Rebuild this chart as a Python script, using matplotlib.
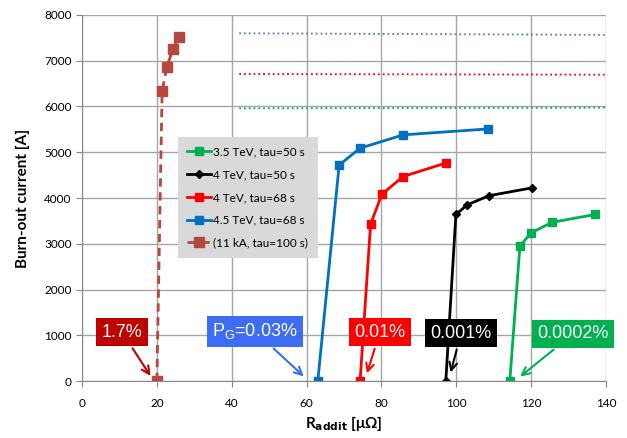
import matplotlib
matplotlib.use("Agg")
import matplotlib.pyplot as plt

plt.rcParams['font.family'] = ['Lato', 'DejaVu Sans']
plt.rcParams['mathtext.default'] = 'regular'

# series: R_addit [uOhm] vs burn-out current [A]
r_35_50 = [114.3, 117.0, 120.0, 125.6, 137.1]
i_35_50 = [0, 2950, 3240, 3470, 3640]
r_4_50 = [97.2, 99.9, 102.9, 108.7, 120.1]
i_4_50 = [0, 3640, 3850, 4050, 4220]
r_4_68 = [74.3, 77.1, 80.1, 85.8, 97.2]
i_4_68 = [0, 3430, 4080, 4470, 4765]
r_45_68 = [63.0, 68.7, 74.3, 85.8, 108.5]
i_45_68 = [0, 4720, 5090, 5380, 5510]
r_11ka = [20.0, 21.4, 22.7, 24.3, 25.9]
i_11ka = [0, 6340, 6870, 7260, 7520]

labels = ['3.5 TeV, tau=50 s', '4 TeV, tau=50 s', '4 TeV, tau=68 s',
          '4.5 TeV, tau=68 s', '(11 kA, tau=100 s)']

# dotted reference levels
lvl_x = [42, 140]
lvl_blue = [7600, 7565]
lvl_red = [6710, 6695]
lvl_green = [5960, 5975]

# probability labels: text, text pos, arrow target, colour
notes = [
    ('1.7%', (10.7, 1070), (18.7, 60), '#c00000'),
    ('P$_G$=0.03%', (46.2, 1090), (59.8, 60), '#3d6df2'),
    ('0.01%', (79.6, 1070), (75.9, 110), '#ff0000'),
    ('0.001%', (101.3, 1050), (98.3, 130), '#000000'),
    ('0.0002%', (131.2, 1030), (116.5, 60), '#00b050'),
]

fig = plt.figure(figsize=(6.27, 4.38), dpi=100)
ax = fig.add_axes([0.1308, 0.130, 0.8357, 0.8358])

ax.plot(lvl_x, lvl_blue, ':', color='#4f81bd', lw=1.3)
ax.plot(lvl_x, lvl_red, ':', color='#ff0000', lw=1.3)
ax.plot(lvl_x, lvl_green, ':', color='#00b050', lw=1.3)

ax.plot(r_35_50, i_35_50, '-s', color='#00b050', lw=2, ms=6, label=labels[0])
ax.plot(r_4_50, i_4_50, '-D', color='#000000', lw=2, ms=4, label=labels[1])
ax.plot(r_4_68, i_4_68, '-s', color='#ff0000', lw=2, ms=6, label=labels[2])
ax.plot(r_45_68, i_45_68, '-s', color='#0070c0', lw=2, ms=6, label=labels[3])
ax.plot(r_11ka, i_11ka, '--s', color='#b5473f', lw=2, ms=7, dashes=(3, 2),
        label=labels[4])

for txt, pos, tgt, col in notes:
    ax.annotate(txt, xy=tgt, xytext=pos, ha='center', va='center',
                color='white', fontsize=13, family='Liberation Sans',
                bbox=dict(boxstyle='square,pad=0.3', fc=col, ec='none'),
                arrowprops=dict(arrowstyle='->', color=col, lw=1.5,
                                mutation_scale=14))

ax.set_xlim(0, 140)
ax.set_ylim(0, 8000)
ax.set_xticks(range(0, 141, 20))
ax.set_yticks(range(0, 8001, 1000))
ax.grid(True, color='#a6a6a6', lw=1)
ax.set_axisbelow(True)
for s in ['top', 'right']:
    ax.spines[s].set_visible(False)
for s in ['left', 'bottom']:
    ax.spines[s].set_color('#888888')
ax.tick_params(axis='both', labelsize=8.5, color='#888888', length=4)
ax.tick_params(axis='x', pad=8)

ax.set_xlabel(r'R$_{\mathbf{addit}}$ [μΩ]', fontsize=11, fontweight='bold')
ax.set_ylabel('Burn-out current [A]', fontsize=11, fontweight='bold',
              labelpad=10)

leg = ax.legend(loc='upper left', bbox_to_anchor=(0.183, 0.667), fontsize=8.5,
                frameon=True, fancybox=False, handlelength=2.0,
                handletextpad=0.2, labelspacing=1.0, borderpad=0.8,
                borderaxespad=0)
leg.get_frame().set_facecolor('#d9d9d9')
leg.get_frame().set_edgecolor('none')
leg.get_frame().set_alpha(1)

fig.savefig('out.png', dpi=100)
